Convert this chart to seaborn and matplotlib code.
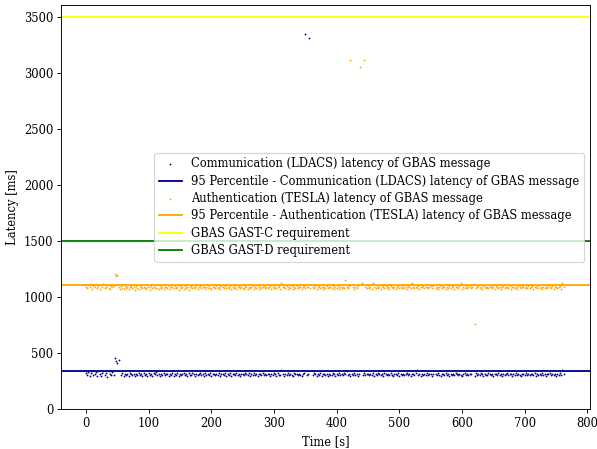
import numpy as np
import pandas as pd
import matplotlib
matplotlib.use('Agg')
import matplotlib.pyplot as plt
import seaborn as sns

plt.rcParams['font.family'] = ['DejaVu Serif']

nan = np.nan

# one message every 2 s, from 0 s to 766 s
time_s = np.arange(0, 768, 2)

ldacs_ms = [
    318, 305, 331, 296, 322, 340, 301, 314, 327, 292, 335, 310, 298, 324, 343, 306,
    319, 290, 337, 312, 300, 328, 305, 452, 428, 415, 441, nan, 302, 318, 296, 311,
    305, 312, 298, 320, 309, 301, 316, 294, 311, 307, 323, 300, 314, 296, 318, 306,
    310, 299, 321, 304, 313, 292, 317, 308, 326, 302, 311, 297, 315, 305, 319, 301,
    308, 316, 295, 312, 303, 322, 299, 310, 306, 318, 293, 314, 301, 309, 324, 304,
    312, 298, 317, 307, 300, 320, 311, 296, 315, 303, 309, 325, 301, 313, 297, 318,
    306, 311, 302, 319, 295, 314, 308, 300, 316, 305, 321, 298, 310, 313, 303, 317,
    299, 312, 307, 320, 296, 309, 315, 302, 318, 304, 311, 294, 316, 308, 301, 322,
    310, 305, 317, 298, 313, 306, 319, 300, 311, 296, 315, 309, 303, 321, 307, 312,
    301, 316, 308, 297, 314, 305, 320, 311, 299, 317, 306, 302, 345, 310, 298, 315,
    304, 318, 300, 312, 307, 296, 319, 309, 313, 301, 316, 305, 298, 311, 320, 3342,
    306, 314, 3313, nan, nan, 302, 317, 308, 299, 312, 305, 320, 297, 310, 315, 303,
    311, 298, 316, 307, 302, 319, 309, 296, 313, 305, 318, 300, 311, 306, 321, 308,
    343, 303, 315, 299, 312, 307, 318, 301, 310, 296, 314, nan, nan, 305, 317, 302,
    309, 315, 300, 312, 306, 320, 298, 311, 304, 317, 308, 302, 314, 297, 319, 310,
    305, 313, 301, 318, 307, 296, 315, 310, 303, 320, 299, 312, 306, 316, 302, 309,
    318, 304, 311, 297, 314, 308, 300, 319, 346, 306, 313, 299, 316, 303, 310, 305,
    317, 301, 312, 308, 296, 315, nan, 310, 303, 320, 306, 299, 313, 309, 302, 318,
    307, 311, 298, 316, 304, 313, 300, 319, 309, 302, 314, 306, 297, 312, 318, 305,
    310, 301, 315, 308, nan, nan, 299, 317, 306, 312, 303, 320, 309, 296, 314, 307,
    302, 318, 311, 305, 313, 298, 316, 309, 300, 320, 307, 312, 296, 315, 304, 310,
    317, 303, 308, 314, 299, 311, 306, 319, 301, 313, 305, 297, 316, 309, 302, 318,
    306, 312, 300, 315, 309, 303, 320, 298, 311, 307, 314, 301, 317, 305, 310, 296,
    313, 308, 319, 302, 311, 305, 316, 299, 312, 307, 318, 304, 344, 310, nan, nan,
]

tesla_ms = [
    1092, 1078, 1105, 1084, 1115, 1071, 1098, 1088, 1112, 1080, 1095, 1067, 1102, 1086, 1118, 1075,
    1090, 1109, 1082, 1074, 1097, 1085, 1100, 1205, 1182, 1191, 1088, 1073, 1096, 1083, 1070, 1101,
    1079, 1092, 1068, 1087, 1099, 1075, 1084, 1061, 1093, 1081, 1072, 1096, 1086, 1077, 1090, 1083,
    1074, 1091, 1085, 1066, 1097, 1080, 1089, 1076, 1102, 1083, 1070, 1094, 1079, 1088, 1073, 1092,
    1086, 1077, 1095, 1069, 1084, 1091, 1075, 1098, 1081, 1088, 1064, 1093, 1078, 1087, 1072, 1096,
    1082, 1090, 1058, 1085, 1094, 1076, 1089, 1080, 1099, 1071, 1087, 1093, 1078, 1084, 1091, 1074,
    1088, 1079, 1096, 1083, 1070, 1092, 1086, 1075, 1097, 1081, 1089, 1067, 1094, 1084, 1078, 1100,
    1076, 1091, 1083, 1095, 1072, 1088, 1080, 1093, 1069, 1086, 1098, 1077, 1090, 1082, 1074, 1096,
    1085, 1071, 1092, 1079, 1087, 1095, 1073, 1089, 1082, 1097, 1068, 1091, 1080, 1086, 1093, 1075,
    1090, 1078, 1084, 1096, 1070, 1088, 1081, 1094, 1076, 1087, 1099, 1072, 1128, 1085, 1091, 1079,
    1093, 1074, 1086, 1082, 1097, 1069, 1089, 1080, 1095, 1077, 1088, 1091, 1073, 1084, 1098, 1079,
    1087, 1092, nan, 1076, nan, 1089, 1083, 1096, 1071, 1085, 1093, 1078, 1090, 1067, 1088, 1081,
    1094, 1075, 1086, 1091, 1079, 1097, 1072, 1088, 1083, 1095, 1070, 1089, 1080, 1092, 1076, 1152,
    1085, 1078, 1093, 3110, nan, 1087, 1074, 1091, 1082, 1096, nan, 3054, 1124, nan, 3113, 1089,
    1077, 1094, 1083, 1090, 1072, 1126, 1086, 1079, 1097, 1081, 1088, 1069, 1093, 1084, 1076, 1095,
    1082, 1089, 1074, 1096, 1087, 1078, 1092, 1070, 1085, 1098, 1080, 1088, 1075, 1093, 1083, 1090,
    1073, 1095, 1084, 1079, 1127, 1088, 1076, 1092, 1081, 1097, 1071, 1089, 1085, 1094, 1078, 1087,
    1091, 1075, 1086, 1093, 1080, 1097, nan, 1083, 1090, 1072, 1088, 1095, 1079, 1085, 1092, 1074,
    1089, 1082, 1096, 1077, 1087, 1093, 1070, 1084, 1091, 1079, 1098, 1128, 1073, 1090, 1081, 1095,
    1078, 1088, 1094, 1083, 1090, nan, 759, 1076, 1087, 1096, 1080, 1089, 1072, 1093, 1085, 1079,
    1092, 1077, 1086, 1095, 1081, 1089, 1073, 1097, 1084, 1079, 1091, 1068, 1088, 1094, 1076, 1085,
    1090, 1083, 1096, 1074, 1087, 1092, 1080, 1089, 1071, 1095, 1084, 1078, 1093, 1086, 1075, 1091,
    1082, 1097, 1079, 1088, 1094, 1073, 1085, 1090, 1077, 1096, 1083, 1087, 1070, 1092, 1081, 1089,
    1076, 1093, 1086, 1080, 1095, 1072, 1088, 1091, 1079, 1084, 1097, 1074, 1122, 1087, nan, nan,
]

# 95 percentile values (ms)
ldacs_p95 = 338
tesla_p95 = 1110

# GBAS requirements (ms)
gast_c = 3500
gast_d = 1500

df = pd.DataFrame({'time': time_s, 'ldacs': ldacs_ms, 'tesla': tesla_ms})

# figure drawn at 10pt and scaled down (dpi 83) like the reference
fig, ax = plt.subplots(figsize=(7.193, 5.41), dpi=83)

sns.scatterplot(data=df, x='time', y='ldacs', ax=ax, color='darkblue', marker='.',
                s=10, linewidth=0, label='Communication (LDACS) latency of GBAS message')
ax.axhline(ldacs_p95, color='darkblue', linewidth=1.6,
           label='95 Percentile - Communication (LDACS) latency of GBAS message')
sns.scatterplot(data=df, x='time', y='tesla', ax=ax, color='orange', marker='.',
                s=10, linewidth=0, label='Authentication (TESLA) latency of GBAS message')
ax.axhline(tesla_p95, color='orange', linewidth=1.6,
           label='95 Percentile - Authentication (TESLA) latency of GBAS message')
ax.axhline(gast_c, color='yellow', linewidth=1.6, label='GBAS GAST-C requirement')
ax.axhline(gast_d, color='green', linewidth=1.6, label='GBAS GAST-D requirement')

ax.set_xlim(-39, 804)
ax.set_ylim(0, 3600)
ax.set_xlabel('Time [s]')
ax.set_ylabel('Latency [ms]')
ax.legend(loc='center right', labelspacing=0.38)

plt.subplots_adjust(left=0.103, right=0.988, top=0.988, bottom=0.089)
plt.savefig('out.png', dpi=83)
